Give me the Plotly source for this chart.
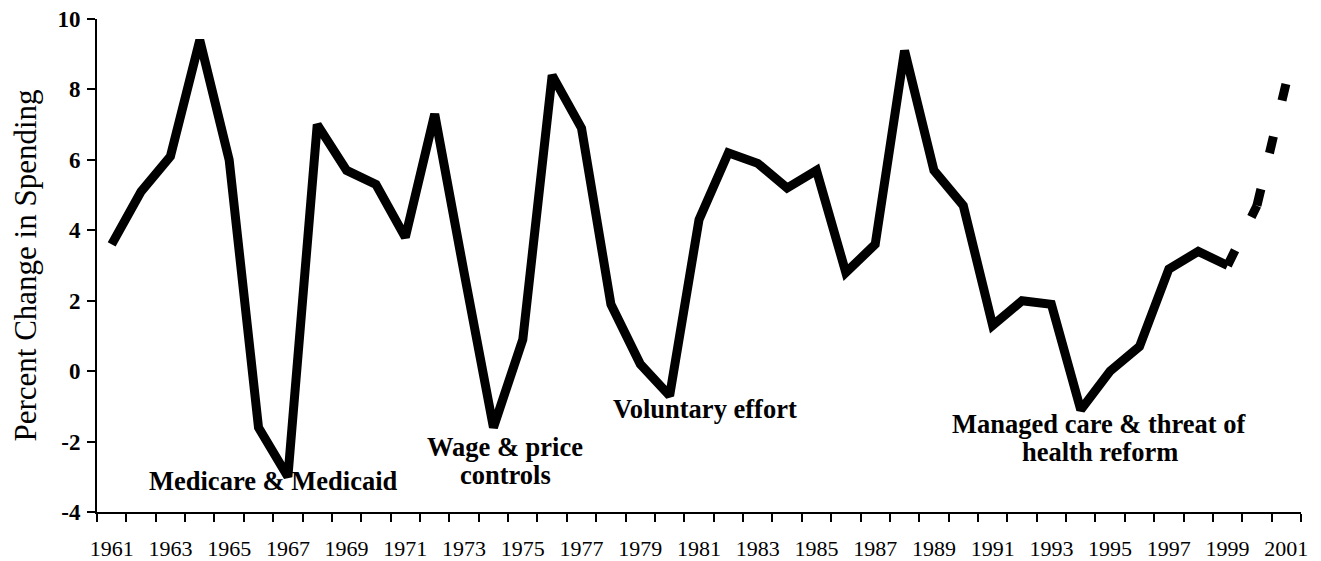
import plotly.graph_objects as go

# ---- data ----
years = list(range(1961, 2000))
pct_change = [3.6, 5.1, 6.1, 9.4, 6.0, -1.6, -3.0, 7.0, 5.7, 5.3,
              3.8, 7.3, 2.8, -1.6, 0.9, 8.4, 6.9, 1.9, 0.2, -0.7,
              4.3, 6.2, 5.9, 5.2, 5.7, 2.8, 3.6, 9.1, 5.7, 4.7,
              1.3, 2.0, 1.9, -1.1, 0.0, 0.7, 2.9, 3.4, 3.0]
proj_years = [1999, 2000, 2001]
proj_change = [3.0, 4.7, 8.2]

tick_years = list(range(1961, 2002, 2))
y_ticks = [-4, -2, 0, 2, 4, 6, 8, 10]
y_ticktext = ["-4", "-2", "0", "2", "4", "6", "8", "10"]

labels_text = ["Medicare & Medicaid", "Wage & price", "controls", "Voluntary effort",
               "Managed care & threat of", "health reform"]
labels_x = [1966.5, 1974.4, 1974.4, 1981.2, 1994.65, 1994.65]
labels_y = [-3.12, -2.15, -2.96, -1.08, -1.49, -2.30]

SERIF = "Liberation Serif, Times New Roman, serif"

fig = go.Figure()
fig.add_trace(go.Scatter(x=years, y=pct_change, mode="lines",
                         line=dict(color="black", width=9), showlegend=False,
                         hoverinfo="skip"))
# projected part: one trace per segment (dash pattern restarts per segment)
for i in range(len(proj_years) - 1):
    fig.add_trace(go.Scatter(x=proj_years[i:i + 2], y=proj_change[i:i + 2], mode="lines",
                             line=dict(color="black", width=9, dash="17px,37px"),
                             showlegend=False, hoverinfo="skip"))

for t, x, y in zip(labels_text, labels_x, labels_y):
    fig.add_annotation(x=x, y=y, text=t, showarrow=False, xanchor="center", yanchor="middle",
                       font=dict(family=SERIF, size=26.5, color="black", weight="bold"))

# the page body has an 8px default margin, so the figure is sized/offset to compensate
fig.update_layout(
    width=1313, height=553,
    margin=dict(l=89, r=20, t=11, b=49),
    paper_bgcolor="white", plot_bgcolor="white",
    font=dict(family=SERIF, color="black"),
)
fig.update_xaxes(
    range=[1960.5, 2001.5], tickmode="array", tickvals=tick_years,
    ticktext=[str(y) for y in tick_years],
    ticks="outside", ticklen=8, tickcolor="rgba(0,0,0,0)", ticklabelstandoff=8,
    ticklabeloverflow="allow",
    tickfont=dict(family=SERIF, size=22, color="black"),
    showline=True, linecolor="black", linewidth=2, showgrid=False, zeroline=False,
    automargin=False,
    minor=dict(tickvals=[y - 0.5 for y in range(1961, 2003)], ticks="outside",
               ticklen=8, tickwidth=2, tickcolor="black", showgrid=False),
)
fig.update_yaxes(
    range=[-4, 10], tickmode="array", tickvals=y_ticks, ticktext=y_ticktext,
    ticks="outside", ticklen=8, tickwidth=2, tickcolor="black", ticklabelstandoff=2,
    ticklabeloverflow="allow",
    tickfont=dict(family=SERIF, size=23, color="black", weight="bold"),
    showline=True, linecolor="black", linewidth=2, showgrid=False, zeroline=False,
    automargin=False,
    title=dict(text="Percent Change in Spending", font=dict(family=SERIF, size=31, color="black"),
               standoff=14),
)

fig.write_html("out.html")
